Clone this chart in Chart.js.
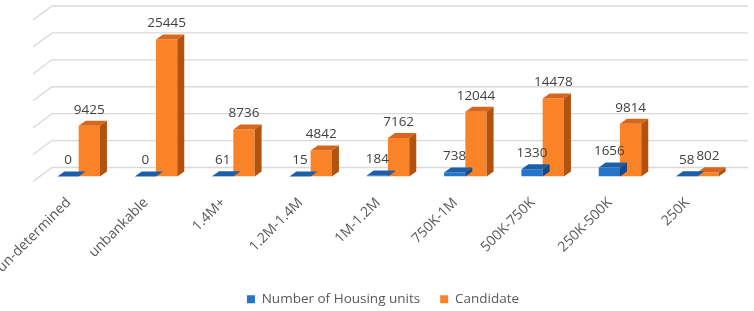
<!DOCTYPE html>
<html>
<head>
<meta charset="utf-8">
<script src="https://cdn.jsdelivr.net/npm/chart.js@4.4.0/dist/chart.umd.min.js"></script>
<style>
  html, body { margin: 0; background: #fff; }
  #wrap { width: 754px; height: 311px; }
</style>
</head>
<body>
<div id="wrap"><canvas id="housing3d"></canvas></div>
<script>
const categories = ['un-determined', 'unbankable', '1.4M+', '1.2M-1.4M', '1M-1.2M', '750K-1M', '500K-750K', '250K-500K', '250K'];
const housingUnits = [0, 0, 61, 15, 184, 738, 1330, 1656, 58];
const candidate = [9425, 25445, 8736, 4842, 7162, 12044, 14478, 9814, 802];
const seriesNames = ['Number of Housing units', 'Candidate'];
const yMin = 0;
const yMax = 30000;
const yStep = 5000;

// colours of the three visible faces of each series
const frontColors = ['#2574c9', '#fa8328'];
const topColors = ['#1c5ea8', '#d8661c'];
const sideColors = ['#154a86', '#b3520f'];

const BAR_DX = 7, BAR_DY = 5;        // bar depth
const WALL_FRONT = { x: -7, y: 5 };   // floor front edge vs bar plane
const WALL_BACK = { x: 12, y: -9 };   // back wall vs bar plane
const FONT = '"Open Sans", "Liberation Sans", sans-serif';

function poly(ctx, pts, color) {
    ctx.beginPath();
    ctx.moveTo(pts[0][0], pts[0][1]);
    for (let i = 1; i < pts.length; i++) ctx.lineTo(pts[i][0], pts[i][1]);
    ctx.closePath();
    ctx.fillStyle = color;
    ctx.fill();
}

// walls: back gridlines + left side wall diagonals
const wall3d = {
    id: 'wall3d',
    afterLayout(chart) {
        // legend row sits a little left of the plot centre in the original
        chart.legend.left -= 5;
        chart.legend.right -= 5;
    },
    beforeDatasetsDraw(chart) {
        const { ctx, chartArea } = chart;
        const yScale = chart.scales.y;
        ctx.save();
        ctx.strokeStyle = '#d9d9d9';
        ctx.lineWidth = 1.3;
        for (let v = yMin; v <= yMax; v += yStep) {
            const y = yScale.getPixelForValue(v);
            ctx.beginPath();
            ctx.moveTo(chartArea.left + WALL_FRONT.x, y + WALL_FRONT.y);
            ctx.lineTo(chartArea.left + WALL_BACK.x, y + WALL_BACK.y);
            ctx.lineTo(chartArea.right + WALL_BACK.x, y + WALL_BACK.y);
            ctx.stroke();
        }
        ctx.restore();
    },
    // top and side faces, drawn per dataset so the next series covers hidden sides
    afterDatasetDraw(chart, args) {
        const { ctx } = chart;
        const i = args.index;
        ctx.save();
        args.meta.data.forEach((bar) => {
            const { x, y, base, width } = bar.getProps(['x', 'y', 'base', 'width'], true);
            const l = x - width / 2;
            const r = x + width / 2;
            poly(ctx, [[l, y], [r, y], [r + BAR_DX, y - BAR_DY], [l + BAR_DX, y - BAR_DY]], topColors[i]);
            poly(ctx, [[r, y], [r + BAR_DX, y - BAR_DY], [r + BAR_DX, base - BAR_DY], [r, base]], sideColors[i]);
        });
        ctx.restore();
    },
    afterDatasetsDraw(chart) {
        const { ctx } = chart;
        ctx.save();
        ctx.font = `13.5px ${FONT}`;
        ctx.fillStyle = '#404040';
        ctx.textAlign = 'center';
        ctx.textBaseline = 'middle';
        chart.data.datasets.forEach((ds, i) => {
            chart.getDatasetMeta(i).data.forEach((bar, k) => {
                const { x, y } = bar.getProps(['x', 'y'], true);
                ctx.fillText(String(ds.data[k]), x, y - 16);
            });
        });
        ctx.restore();
    },
};

new Chart(document.getElementById('housing3d'), {
    type: 'bar',
    data: {
        labels: categories,
        datasets: [
            { label: seriesNames[0], data: housingUnits, backgroundColor: frontColors[0] },
            { label: seriesNames[1], data: candidate, backgroundColor: frontColors[1] },
        ],
    },
    options: {
        responsive: true,
        maintainAspectRatio: false,
        devicePixelRatio: 1,
        animation: false,
        layout: { padding: { left: 40, right: 18, top: 15, bottom: -5 } },
        datasets: {
            bar: { categoryPercentage: 0.55, barPercentage: 1.0, borderWidth: 0 },
        },
        plugins: {
            legend: {
                position: 'bottom',
                labels: {
                    boxWidth: 8,
                    boxHeight: 8,
                    padding: 20,
                    color: '#595959',
                    font: { family: FONT, size: 13.5 },
                },
            },
            tooltip: { enabled: false },
        },
        scales: {
            x: {
                grid: { display: false },
                border: { display: false },
                ticks: {
                    minRotation: 45,
                    maxRotation: 45,
                    padding: 10,
                    labelOffset: -10,
                    color: '#595959',
                    font: { family: FONT, size: 14 },
                },
                afterFit(scale) {
                    // first label is allowed to run off the left edge, like the original
                    scale.height = 96;
                    scale.paddingLeft = 0;
                    scale.paddingRight = 0;
                },
            },
            y: {
                display: false,
                min: yMin,
                max: yMax,
                ticks: { stepSize: yStep },
            },
        },
    },
    plugins: [wall3d],
});
</script>
</body>
</html>
